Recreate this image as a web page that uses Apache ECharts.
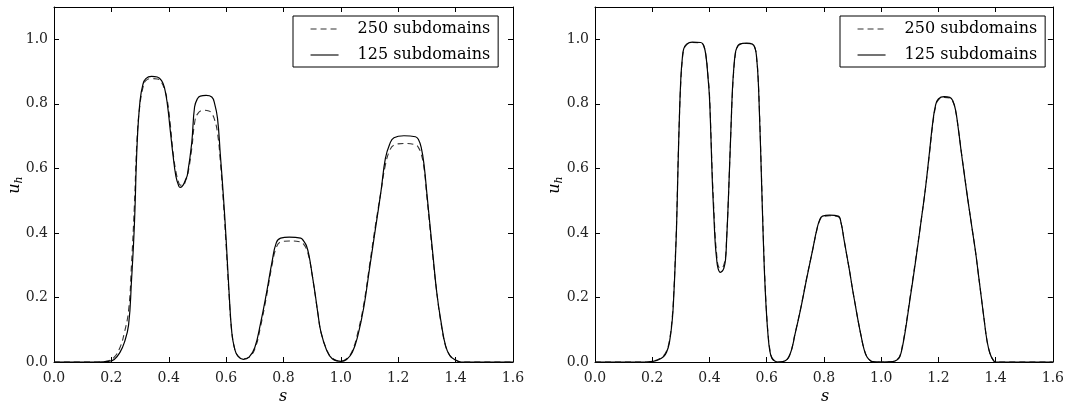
<!DOCTYPE html>
<html>
<head>
<meta charset="utf-8">
<script src="https://cdn.jsdelivr.net/npm/echarts@6/dist/echarts.min.js"></script>
<style>
html,body{margin:0;padding:0;background:#fff;}
#c{width:1067px;height:405px;}
</style>
</head>
<body>
<div id="c"></div>
<script>
// ---- data ----
var seriesNames = ['250 subdomains', '125 subdomains'];
var xTicks = [0.0, 0.2, 0.4, 0.6, 0.8, 1.0, 1.2, 1.4, 1.6];
var yTicks = [0.0, 0.2, 0.4, 0.6, 0.8, 1.0];

// Left panel, 125 subdomains (solid)
var sLeft125 = [0, 0.15, 0.19, 0.21, 0.23, 0.245, 0.26, 0.27, 0.28, 0.29, 0.30, 0.31, 0.32, 0.34, 0.36, 0.375, 0.385, 0.395, 0.405, 0.415, 0.425, 0.435, 0.44, 0.45, 0.46, 0.465, 0.48, 0.49, 0.50, 0.51, 0.53, 0.55, 0.56, 0.57, 0.58, 0.59, 0.60, 0.61, 0.62, 0.63, 0.64, 0.66, 0.68, 0.70, 0.72, 0.74, 0.76, 0.775, 0.79, 0.82, 0.86, 0.87, 0.88, 0.89, 0.90, 0.91, 0.92, 0.93, 0.95, 0.97, 1.0, 1.02, 1.04, 1.06, 1.08, 1.10, 1.12, 1.14, 1.155, 1.17, 1.185, 1.22, 1.26, 1.27, 1.28, 1.29, 1.30, 1.31, 1.32, 1.335, 1.35, 1.365, 1.38, 1.40, 1.42, 1.6];
var uLeft125 = [0, 0, 0.002, 0.008, 0.03, 0.06, 0.115, 0.25, 0.42, 0.68, 0.81, 0.86, 0.878, 0.885, 0.883, 0.872, 0.85, 0.80, 0.72, 0.64, 0.575, 0.545, 0.541, 0.548, 0.568, 0.58, 0.678, 0.79, 0.816, 0.824, 0.826, 0.821, 0.80, 0.755, 0.64, 0.52, 0.38, 0.22, 0.09, 0.04, 0.02, 0.008, 0.015, 0.045, 0.12, 0.21, 0.31, 0.37, 0.384, 0.387, 0.384, 0.375, 0.36, 0.325, 0.27, 0.213, 0.15, 0.095, 0.037, 0.01, 0.002, 0.008, 0.03, 0.085, 0.17, 0.29, 0.41, 0.53, 0.63, 0.675, 0.695, 0.701, 0.698, 0.69, 0.665, 0.61, 0.52, 0.43, 0.34, 0.21, 0.12, 0.05, 0.02, 0.006, 0, 0];

// Left panel, 250 subdomains (dashed)
var sLeft250 = [0, 0.15, 0.19, 0.21, 0.23, 0.245, 0.26, 0.27, 0.28, 0.29, 0.30, 0.31, 0.32, 0.34, 0.36, 0.375, 0.385, 0.395, 0.405, 0.415, 0.425, 0.435, 0.44, 0.45, 0.46, 0.465, 0.48, 0.49, 0.50, 0.52, 0.54, 0.55, 0.56, 0.57, 0.58, 0.59, 0.60, 0.61, 0.62, 0.63, 0.64, 0.66, 0.68, 0.70, 0.72, 0.74, 0.76, 0.775, 0.79, 0.82, 0.86, 0.87, 0.88, 0.89, 0.90, 0.91, 0.92, 0.93, 0.95, 0.97, 1.0, 1.02, 1.04, 1.06, 1.08, 1.10, 1.12, 1.14, 1.155, 1.17, 1.185, 1.22, 1.26, 1.27, 1.28, 1.29, 1.30, 1.31, 1.32, 1.335, 1.35, 1.365, 1.38, 1.40, 1.42, 1.6];
var uLeft250 = [0, 0, 0.004, 0.015, 0.045, 0.09, 0.16, 0.30, 0.48, 0.70, 0.80, 0.85, 0.872, 0.878, 0.877, 0.866, 0.845, 0.81, 0.74, 0.65, 0.59, 0.555, 0.548, 0.548, 0.565, 0.575, 0.66, 0.74, 0.768, 0.78, 0.778, 0.77, 0.75, 0.71, 0.62, 0.50, 0.36, 0.21, 0.09, 0.04, 0.02, 0.01, 0.015, 0.04, 0.11, 0.20, 0.30, 0.355, 0.372, 0.375, 0.372, 0.365, 0.35, 0.32, 0.27, 0.21, 0.15, 0.095, 0.04, 0.012, 0.003, 0.01, 0.035, 0.095, 0.18, 0.30, 0.42, 0.53, 0.61, 0.655, 0.672, 0.677, 0.673, 0.665, 0.645, 0.60, 0.51, 0.42, 0.33, 0.21, 0.115, 0.05, 0.02, 0.006, 0, 0];

// Right panel, 125 subdomains (solid)
var sRight125 = [0, 0.18, 0.20, 0.22, 0.24, 0.25, 0.26, 0.27, 0.275, 0.28, 0.285, 0.29, 0.295, 0.30, 0.305, 0.31, 0.32, 0.34, 0.37, 0.38, 0.388, 0.395, 0.40, 0.405, 0.41, 0.415, 0.42, 0.425, 0.43, 0.438, 0.445, 0.45, 0.456, 0.46, 0.465, 0.47, 0.475, 0.48, 0.485, 0.49, 0.495, 0.505, 0.53, 0.55, 0.56, 0.565, 0.57, 0.575, 0.58, 0.585, 0.59, 0.595, 0.60, 0.605, 0.61, 0.618, 0.63, 0.64, 0.66, 0.68, 0.70, 0.72, 0.74, 0.76, 0.775, 0.785, 0.795, 0.82, 0.85, 0.86, 0.87, 0.88, 0.89, 0.90, 0.91, 0.92, 0.93, 0.94, 0.95, 0.96, 0.97, 1.0, 1.04, 1.055, 1.065, 1.075, 1.085, 1.10, 1.12, 1.14, 1.155, 1.17, 1.18, 1.19, 1.20, 1.22, 1.24, 1.25, 1.26, 1.27, 1.28, 1.29, 1.30, 1.31, 1.32, 1.33, 1.34, 1.35, 1.36, 1.37, 1.38, 1.39, 1.40, 1.6];
var uRight125 = [0, 0, 0.002, 0.006, 0.017, 0.03, 0.06, 0.13, 0.2, 0.3, 0.42, 0.6, 0.76, 0.88, 0.94, 0.97, 0.985, 0.991, 0.99, 0.98, 0.946, 0.88, 0.82, 0.70, 0.56, 0.46, 0.37, 0.32, 0.29, 0.278, 0.282, 0.29, 0.316, 0.38, 0.48, 0.6, 0.72, 0.84, 0.91, 0.955, 0.972, 0.985, 0.988, 0.985, 0.97, 0.94, 0.88, 0.76, 0.62, 0.47, 0.33, 0.22, 0.14, 0.08, 0.04, 0.012, 0.002, 0, 0.002, 0.02, 0.09, 0.17, 0.26, 0.345, 0.41, 0.44, 0.452, 0.455, 0.452, 0.43, 0.38, 0.33, 0.28, 0.225, 0.175, 0.125, 0.08, 0.04, 0.016, 0.006, 0.001, 0, 0.001, 0.006, 0.016, 0.05, 0.10, 0.19, 0.31, 0.44, 0.54, 0.66, 0.74, 0.795, 0.815, 0.822, 0.82, 0.81, 0.78, 0.72, 0.65, 0.585, 0.52, 0.46, 0.40, 0.34, 0.27, 0.20, 0.13, 0.065, 0.027, 0.008, 0, 0];

// Right panel, 250 subdomains (dashed)
var sRight250 = [0, 0.18, 0.20, 0.22, 0.24, 0.25, 0.26, 0.27, 0.275, 0.28, 0.285, 0.29, 0.295, 0.30, 0.305, 0.31, 0.32, 0.34, 0.37, 0.38, 0.388, 0.395, 0.40, 0.405, 0.41, 0.415, 0.42, 0.425, 0.43, 0.438, 0.445, 0.45, 0.456, 0.46, 0.465, 0.47, 0.475, 0.48, 0.485, 0.49, 0.495, 0.505, 0.53, 0.55, 0.56, 0.565, 0.57, 0.575, 0.58, 0.585, 0.59, 0.595, 0.60, 0.605, 0.61, 0.618, 0.63, 0.64, 0.66, 0.68, 0.70, 0.72, 0.74, 0.76, 0.775, 0.785, 0.795, 0.82, 0.85, 0.86, 0.87, 0.88, 0.89, 0.90, 0.91, 0.92, 0.93, 0.94, 0.95, 0.96, 0.97, 1.0, 1.04, 1.055, 1.065, 1.075, 1.085, 1.10, 1.12, 1.14, 1.155, 1.17, 1.18, 1.19, 1.20, 1.22, 1.24, 1.25, 1.26, 1.27, 1.28, 1.29, 1.30, 1.31, 1.32, 1.33, 1.34, 1.35, 1.36, 1.37, 1.38, 1.39, 1.40, 1.6];
var uRight250 = [0, 0, 0.003, 0.008, 0.02, 0.034, 0.066, 0.14, 0.21, 0.31, 0.43, 0.61, 0.76, 0.87, 0.935, 0.965, 0.983, 0.99, 0.989, 0.98, 0.948, 0.885, 0.83, 0.71, 0.58, 0.48, 0.39, 0.335, 0.30, 0.29, 0.292, 0.30, 0.325, 0.385, 0.48, 0.6, 0.72, 0.83, 0.905, 0.95, 0.97, 0.983, 0.987, 0.984, 0.97, 0.94, 0.88, 0.77, 0.63, 0.48, 0.34, 0.23, 0.145, 0.085, 0.045, 0.014, 0.003, 0, 0.002, 0.022, 0.092, 0.172, 0.262, 0.345, 0.408, 0.438, 0.45, 0.453, 0.45, 0.43, 0.38, 0.33, 0.28, 0.225, 0.175, 0.125, 0.08, 0.04, 0.016, 0.006, 0.001, 0, 0.001, 0.007, 0.018, 0.055, 0.105, 0.195, 0.315, 0.44, 0.54, 0.655, 0.735, 0.79, 0.812, 0.82, 0.818, 0.808, 0.78, 0.72, 0.652, 0.587, 0.522, 0.46, 0.40, 0.34, 0.27, 0.20, 0.13, 0.065, 0.027, 0.008, 0, 0];

function zip(a, b) { return a.map(function (v, i) { return [v, b[i]]; }); }

var SERIF = 'DejaVu Serif';
var labelStyle = { color: '#222', fontFamily: SERIF, fontSize: 14 };

function xAxisPair(gi) {
  var base = { gridIndex: gi, type: 'value', min: 0, max: 1.6, interval: 0.2,
    axisLine: { show: true, onZero: false, lineStyle: { color: '#000', width: 1 } },
    axisTick: { show: true, inside: true, length: 5, lineStyle: { color: '#000' } },
    splitLine: { show: false } };
  var bottom = Object.assign({}, base, { position: 'bottom',
    axisLabel: Object.assign({ margin: 9, formatter: function (v) { return v.toFixed(1); } }, labelStyle) });
  var top = Object.assign({}, base, { position: 'top', axisLabel: { show: false } });
  return [bottom, top];
}
function yAxisPair(gi) {
  var base = { gridIndex: gi, type: 'value', min: 0, max: 1.1, interval: 0.2,
    axisLine: { show: true, onZero: false, lineStyle: { color: '#000', width: 1 } },
    axisTick: { show: true, inside: true, length: 5, lineStyle: { color: '#000' } },
    splitLine: { show: false } };
  var left = Object.assign({}, base, { position: 'left',
    axisLabel: Object.assign({ margin: 6, showMaxLabel: false, formatter: function (v) { return v.toFixed(1); } }, labelStyle) });
  var right = Object.assign({}, base, { position: 'right', axisLabel: { show: false } });
  return [left, right];
}

function lineSeries(name, xi, yi, data, dashed) {
  return {
    name: name, type: 'line', xAxisIndex: xi, yAxisIndex: yi, data: data,
    showSymbol: false, symbol: 'none', smooth: 0.45,
    lineStyle: { color: dashed ? '#333' : '#000', width: dashed ? 1.1 : 1.2, type: dashed ? [6, 4] : 'solid' },
    itemStyle: { color: '#000' },
    emphasis: { disabled: true }, animation: false
  };
}

var xa = xAxisPair(0).concat(xAxisPair(1));
var ya = yAxisPair(0).concat(yAxisPair(1));

function legendAt(left) {
  return {
    left: left, top: 16, orient: 'vertical', itemGap: 10,
    itemWidth: 28, itemHeight: 14,
    padding: [5, 8, 4, 17],
    borderColor: '#000', borderWidth: 1, borderRadius: 0,
    backgroundColor: '#fff',
    itemStyle: { opacity: 0 },
    lineStyle: { width: 1.1 },
    textStyle: { fontFamily: SERIF, fontSize: 16, color: '#000', padding: [0, 0, 0, 14] },
    data: seriesNames.slice(),
    selectedMode: false
  };
}

var option = {
  backgroundColor: '#fff',
  animation: false,
  grid: [
    { left: 54, top: 7, width: 459, height: 355 },
    { left: 595, top: 7, width: 460, height: 355 }
  ],
  xAxis: xa,
  yAxis: ya,
  legend: [legendAt(293), legendAt(840)],
  series: [
    lineSeries(seriesNames[0], 0, 0, zip(sLeft250, uLeft250), true),
    lineSeries(seriesNames[1], 0, 0, zip(sLeft125, uLeft125), false),
    lineSeries(seriesNames[0], 2, 2, zip(sRight250, uRight250), true),
    lineSeries(seriesNames[1], 2, 2, zip(sRight125, uRight125), false)
  ],
  graphic: [
    { type: 'text', x: 283, y: 397, style: { text: 's', fontFamily: SERIF, fontStyle: 'italic', fontSize: 16, fill: '#000', align: 'center', verticalAlign: 'middle' } },
    { type: 'text', x: 825, y: 397, style: { text: 's', fontFamily: SERIF, fontStyle: 'italic', fontSize: 16, fill: '#000', align: 'center', verticalAlign: 'middle' } },
    { type: 'text', x: 15, y: 185, rotation: Math.PI / 2, style: { text: '{u|u}{h|h}', align: 'center', verticalAlign: 'middle', rich: { u: { fontFamily: SERIF, fontStyle: 'italic', fontSize: 16, fill: '#000' }, h: { fontFamily: SERIF, fontStyle: 'italic', fontSize: 11, fill: '#000', padding: [9, 0, 0, 0] } } } },
    { type: 'text', x: 555, y: 185, rotation: Math.PI / 2, style: { text: '{u|u}{h|h}', align: 'center', verticalAlign: 'middle', rich: { u: { fontFamily: SERIF, fontStyle: 'italic', fontSize: 16, fill: '#000' }, h: { fontFamily: SERIF, fontStyle: 'italic', fontSize: 11, fill: '#000', padding: [9, 0, 0, 0] } } } }
  ]
};

var chart = echarts.init(document.getElementById('c'), null, { renderer: 'canvas' });
chart.setOption(option);
</script>
</body>
</html>
